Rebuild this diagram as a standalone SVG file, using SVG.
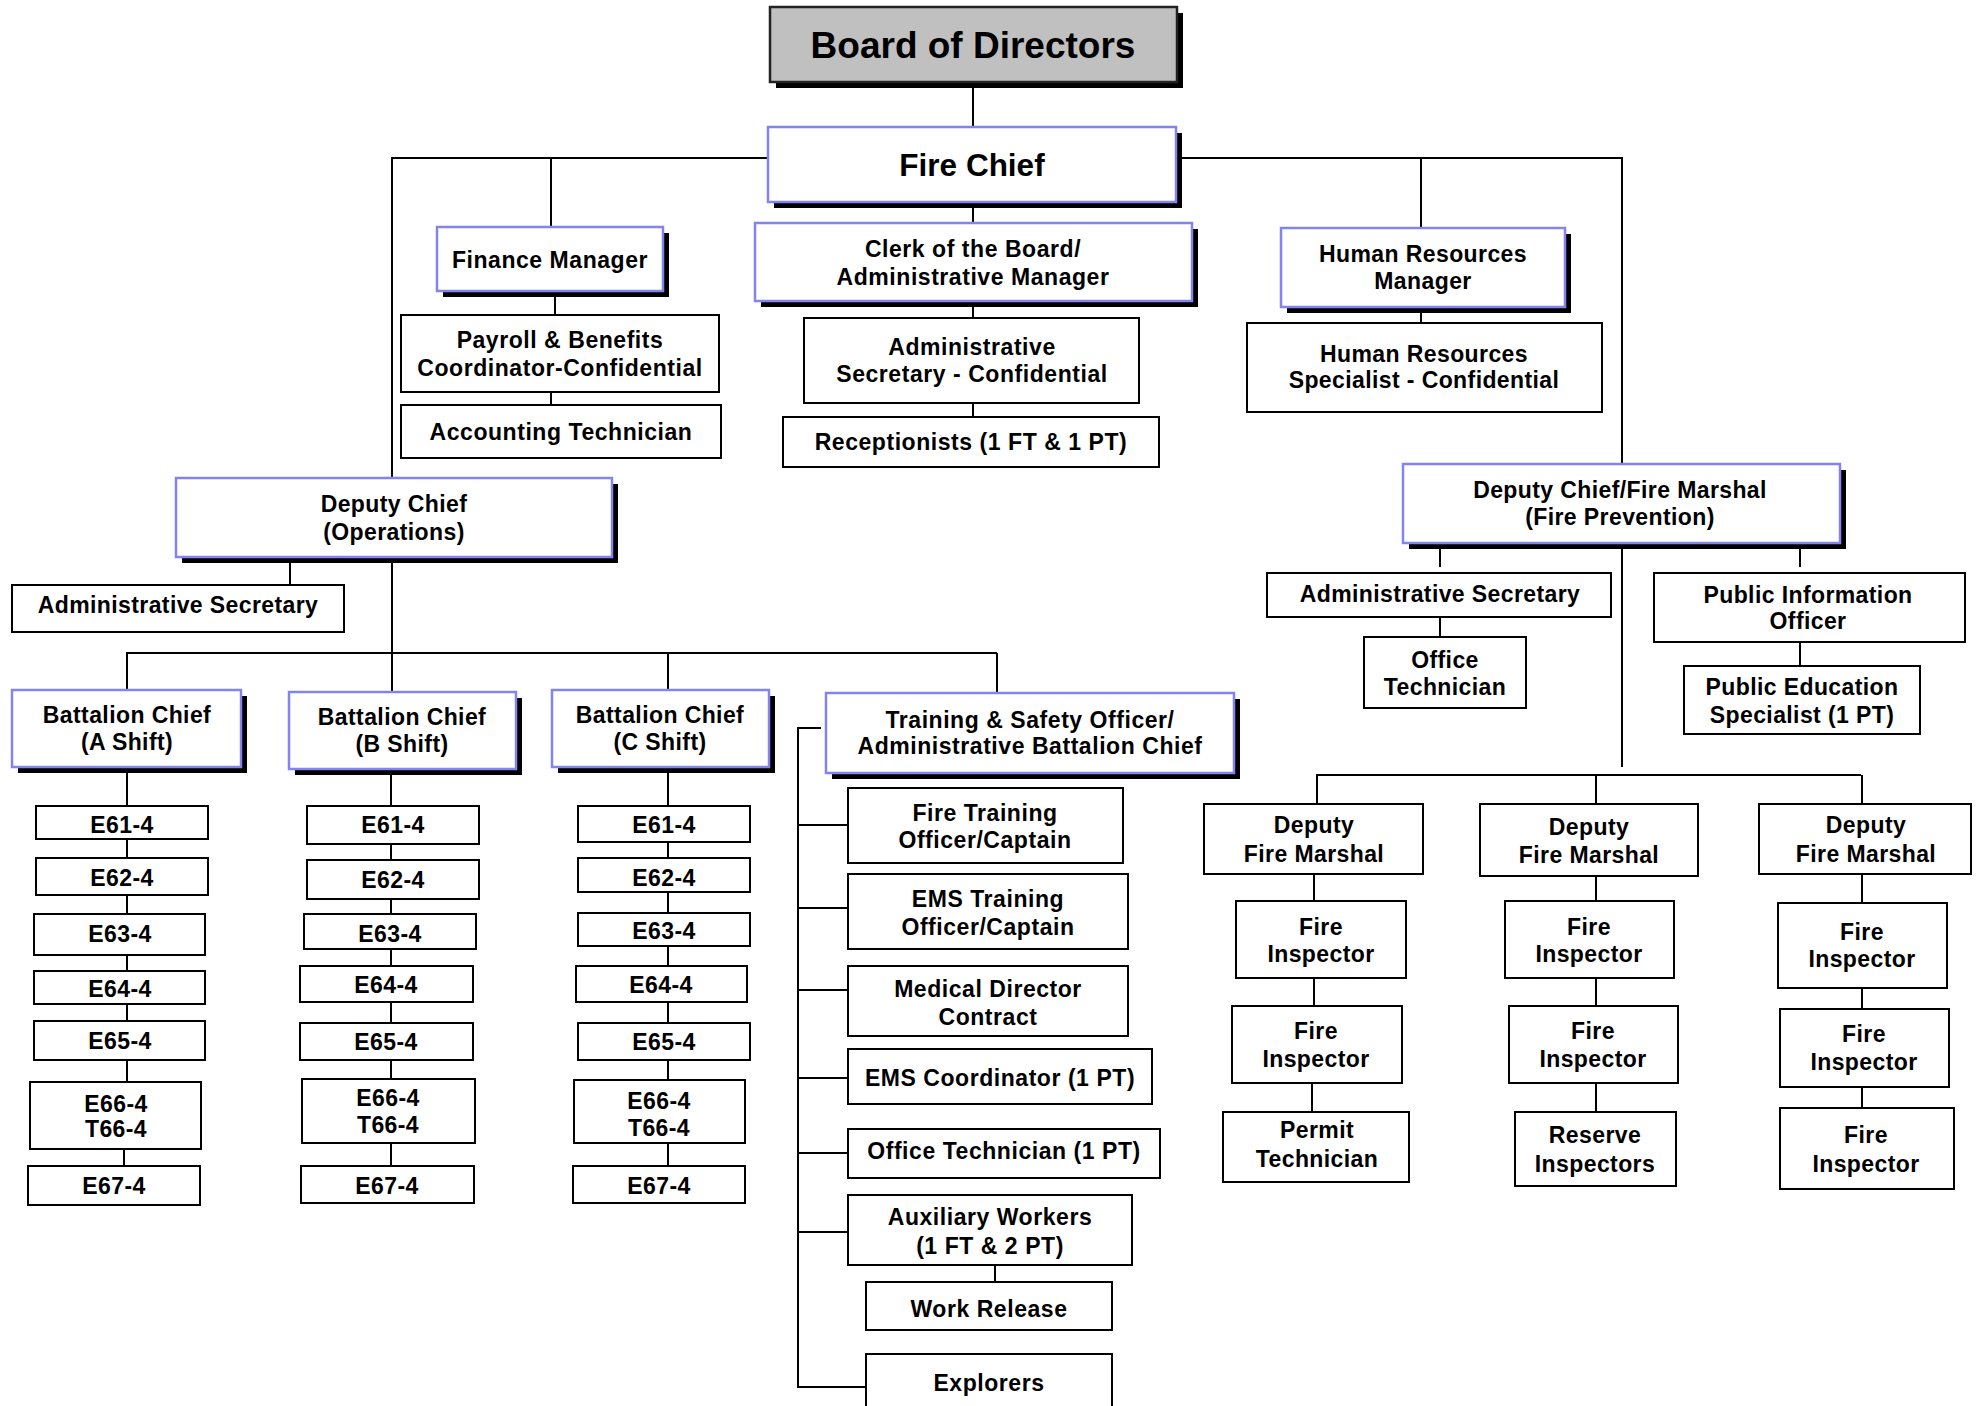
<svg xmlns="http://www.w3.org/2000/svg" width="1979" height="1406" viewBox="0 0 1979 1406">
<style>
.bg{fill:#ffffff}
.ln{stroke:#000;stroke-width:2;fill:none}
.bx{fill:#fff;stroke:#000;stroke-width:2}
.bl{fill:#fff;stroke:#8484F0;stroke-width:2.5}
.gr{fill:#C0C0C0;stroke:#222;stroke-width:2.5}
.sh{fill:#000}
text{font-family:"Liberation Sans",Arial,sans-serif;font-weight:bold;font-size:23px;text-anchor:middle;fill:#000;letter-spacing:0.4px}
.big{font-size:37px;letter-spacing:0}
.fc{font-size:31.5px;letter-spacing:0}
.ws{letter-spacing:0.55px}
</style>
<rect class="bg" x="0" y="0" width="1979" height="1406"/>
<g id="connectors">
<line class="ln" x1="973" y1="82" x2="973" y2="127"/>
<line class="ln" x1="973" y1="207" x2="973" y2="223"/>
<line class="ln" x1="973" y1="307" x2="973" y2="318"/>
<line class="ln" x1="973" y1="403" x2="973" y2="417"/>
<line class="ln" x1="391" y1="158" x2="768" y2="158"/>
<line class="ln" x1="1182" y1="158" x2="1623" y2="158"/>
<line class="ln" x1="551" y1="158" x2="551" y2="227"/>
<line class="ln" x1="555" y1="297" x2="555" y2="315"/>
<line class="ln" x1="551" y1="392" x2="551" y2="405"/>
<line class="ln" x1="1421" y1="158" x2="1421" y2="228"/>
<line class="ln" x1="1421" y1="313" x2="1421" y2="323"/>
<line class="ln" x1="392" y1="158" x2="392" y2="478"/>
<line class="ln" x1="392" y1="562" x2="392" y2="692"/>
<line class="ln" x1="290" y1="562" x2="290" y2="585"/>
<line class="ln" x1="126" y1="653" x2="997" y2="653"/>
<line class="ln" x1="127" y1="653" x2="127" y2="690"/>
<line class="ln" x1="668" y1="653" x2="668" y2="690"/>
<line class="ln" x1="997" y1="653" x2="997" y2="693"/>
<line class="ln" x1="127" y1="773" x2="127" y2="1082"/>
<line class="ln" x1="124" y1="1149" x2="124" y2="1166"/>
<line class="ln" x1="391" y1="775" x2="391" y2="1166"/>
<line class="ln" x1="668" y1="773" x2="668" y2="1166"/>
<line class="ln" x1="798" y1="727" x2="798" y2="1388"/>
<line class="ln" x1="797" y1="728" x2="821" y2="728"/>
<line class="ln" x1="797" y1="825" x2="848" y2="825"/>
<line class="ln" x1="797" y1="908" x2="848" y2="908"/>
<line class="ln" x1="797" y1="990" x2="848" y2="990"/>
<line class="ln" x1="797" y1="1078" x2="848" y2="1078"/>
<line class="ln" x1="797" y1="1153" x2="848" y2="1153"/>
<line class="ln" x1="797" y1="1232" x2="848" y2="1232"/>
<line class="ln" x1="797" y1="1387" x2="866" y2="1387"/>
<line class="ln" x1="995" y1="1265" x2="995" y2="1282"/>
<line class="ln" x1="1622" y1="158" x2="1622" y2="464"/>
<line class="ln" x1="1622" y1="549" x2="1622" y2="767"/>
<line class="ln" x1="1440" y1="549" x2="1440" y2="567"/>
<line class="ln" x1="1440" y1="617" x2="1440" y2="637"/>
<line class="ln" x1="1800" y1="549" x2="1800" y2="567"/>
<line class="ln" x1="1800" y1="642" x2="1800" y2="666"/>
<line class="ln" x1="1316" y1="775" x2="1861" y2="775"/>
<line class="ln" x1="1317" y1="775" x2="1317" y2="804"/>
<line class="ln" x1="1314" y1="874" x2="1314" y2="901"/>
<line class="ln" x1="1314" y1="978" x2="1314" y2="1006"/>
<line class="ln" x1="1312" y1="1083" x2="1312" y2="1112"/>
<line class="ln" x1="1596" y1="775" x2="1596" y2="1112"/>
<line class="ln" x1="1862" y1="775" x2="1862" y2="1108"/>
</g>
<g id="board"><rect class="sh" x="776" y="13" width="407" height="75"/><rect class="gr" x="770" y="7" width="407" height="75"/><text class="big" x="973" y="58">Board of Directors</text></g>
<g id="fire-chief"><rect class="sh" x="774" y="133" width="408" height="75"/><rect class="bl" x="768" y="127" width="408" height="75"/><text class="fc" x="972" y="176">Fire Chief</text></g>
<g id="clerk"><rect class="sh" x="761" y="229" width="437" height="78"/><rect class="bl" x="755" y="223" width="437" height="78"/><text class="ws" x="973" y="257">Clerk of the Board/</text><text class="ws" x="973" y="285">Administrative Manager</text></g>
<g id="admin-sec-conf"><rect class="bx" x="804" y="318" width="335" height="85"/><text class="ws" x="972" y="355">Administrative</text><text class="ws" x="972" y="382">Secretary - Confidential</text></g>
<g id="receptionists"><rect class="bx" x="783" y="417" width="376" height="50"/><text class="ws" x="971" y="450">Receptionists (1 FT &amp; 1 PT)</text></g>
<g id="finance"><rect class="sh" x="443" y="233" width="226" height="64"/><rect class="bl" x="437" y="227" width="226" height="64"/><text class="ws" x="550" y="268">Finance Manager</text></g>
<g id="payroll"><rect class="bx" x="401" y="315" width="318" height="77"/><text class="ws" x="560" y="348">Payroll &amp; Benefits</text><text class="ws" x="560" y="376">Coordinator-Confidential</text></g>
<g id="accounting"><rect class="bx" x="401" y="405" width="320" height="53"/><text class="ws" x="561" y="440">Accounting Technician</text></g>
<g id="hr-manager"><rect class="sh" x="1287" y="234" width="284" height="79"/><rect class="bl" x="1281" y="228" width="284" height="79"/><text x="1423" y="262">Human Resources</text><text x="1423" y="289">Manager</text></g>
<g id="hr-specialist"><rect class="bx" x="1247" y="323" width="355" height="89"/><text x="1424" y="362">Human Resources</text><text x="1424" y="388">Specialist - Confidential</text></g>
<g id="deputy-ops"><rect class="sh" x="182" y="484" width="436" height="79"/><rect class="bl" x="176" y="478" width="436" height="79"/><text x="394" y="512">Deputy Chief</text><text x="394" y="540">(Operations)</text></g>
<g id="admin-sec-ops"><rect class="bx" x="12" y="585" width="332" height="47"/><text x="178" y="613">Administrative Secretary</text></g>
<g id="bc-a"><rect class="sh" x="18" y="696" width="229" height="77"/><rect class="bl" x="12" y="690" width="229" height="77"/><text x="127" y="723">Battalion Chief</text><text x="127" y="750">(A Shift)</text></g>
<g id="bc-b"><rect class="sh" x="295" y="698" width="227" height="77"/><rect class="bl" x="289" y="692" width="227" height="77"/><text x="402" y="725">Battalion Chief</text><text x="402" y="752">(B Shift)</text></g>
<g id="bc-c"><rect class="sh" x="558" y="696" width="217" height="77"/><rect class="bl" x="552" y="690" width="217" height="77"/><text x="660" y="723">Battalion Chief</text><text x="660" y="750">(C Shift)</text></g>
<g id="a-e61"><rect class="bx" x="36" y="806" width="172" height="33"/><text x="122" y="833">E61-4</text></g>
<g id="a-e62"><rect class="bx" x="36" y="858" width="172" height="37"/><text x="122" y="886">E62-4</text></g>
<g id="a-e63"><rect class="bx" x="34" y="914" width="171" height="41"/><text x="120" y="942">E63-4</text></g>
<g id="a-e64"><rect class="bx" x="34" y="971" width="171" height="33"/><text x="120" y="997">E64-4</text></g>
<g id="a-e65"><rect class="bx" x="34" y="1021" width="171" height="39"/><text x="120" y="1049">E65-4</text></g>
<g id="a-e66"><rect class="bx" x="30" y="1082" width="171" height="67"/><text x="116" y="1112">E66-4</text><text x="116" y="1137">T66-4</text></g>
<g id="a-e67"><rect class="bx" x="28" y="1166" width="172" height="39"/><text x="114" y="1194">E67-4</text></g>
<g id="b-e61"><rect class="bx" x="307" y="806" width="172" height="38"/><text x="393" y="833">E61-4</text></g>
<g id="b-e62"><rect class="bx" x="307" y="860" width="172" height="39"/><text x="393" y="888">E62-4</text></g>
<g id="b-e63"><rect class="bx" x="304" y="914" width="172" height="35"/><text x="390" y="942">E63-4</text></g>
<g id="b-e64"><rect class="bx" x="300" y="966" width="173" height="36"/><text x="386" y="993">E64-4</text></g>
<g id="b-e65"><rect class="bx" x="300" y="1023" width="173" height="37"/><text x="386" y="1050">E65-4</text></g>
<g id="b-e66"><rect class="bx" x="302" y="1079" width="173" height="64"/><text x="388" y="1106">E66-4</text><text x="388" y="1133">T66-4</text></g>
<g id="b-e67"><rect class="bx" x="301" y="1166" width="173" height="37"/><text x="387" y="1194">E67-4</text></g>
<g id="c-e61"><rect class="bx" x="578" y="806" width="172" height="36"/><text x="664" y="833">E61-4</text></g>
<g id="c-e62"><rect class="bx" x="578" y="858" width="172" height="34"/><text x="664" y="886">E62-4</text></g>
<g id="c-e63"><rect class="bx" x="578" y="913" width="172" height="33"/><text x="664" y="939">E63-4</text></g>
<g id="c-e64"><rect class="bx" x="576" y="966" width="171" height="36"/><text x="661" y="993">E64-4</text></g>
<g id="c-e65"><rect class="bx" x="578" y="1023" width="172" height="37"/><text x="664" y="1050">E65-4</text></g>
<g id="c-e66"><rect class="bx" x="574" y="1080" width="171" height="63"/><text x="659" y="1109">E66-4</text><text x="659" y="1136">T66-4</text></g>
<g id="c-e67"><rect class="bx" x="573" y="1166" width="172" height="37"/><text x="659" y="1194">E67-4</text></g>
<g id="training"><rect class="sh" x="832" y="699" width="408" height="80"/><rect class="bl" x="826" y="693" width="408" height="80"/><text class="ws" x="1030" y="728">Training &amp; Safety Officer/</text><text class="ws" x="1030" y="754">Administrative Battalion Chief</text></g>
<g id="fire-training"><rect class="bx" x="848" y="788" width="275" height="75"/><text class="ws" x="985" y="821">Fire Training</text><text class="ws" x="985" y="848">Officer/Captain</text></g>
<g id="ems-training"><rect class="bx" x="848" y="874" width="280" height="75"/><text class="ws" x="988" y="907">EMS Training</text><text class="ws" x="988" y="935">Officer/Captain</text></g>
<g id="medical-director"><rect class="bx" x="848" y="966" width="280" height="70"/><text class="ws" x="988" y="997">Medical Director</text><text class="ws" x="988" y="1025">Contract</text></g>
<g id="ems-coordinator"><rect class="bx" x="848" y="1049" width="304" height="55"/><text class="ws" x="1000" y="1086">EMS Coordinator (1 PT)</text></g>
<g id="office-tech-training"><rect class="bx" x="848" y="1129" width="312" height="49"/><text class="ws" x="1004" y="1159">Office Technician (1 PT)</text></g>
<g id="auxiliary"><rect class="bx" x="848" y="1195" width="284" height="70"/><text class="ws" x="990" y="1225">Auxiliary Workers</text><text class="ws" x="990" y="1254">(1 FT &amp; 2 PT)</text></g>
<g id="work-release"><rect class="bx" x="866" y="1282" width="246" height="48"/><text class="ws" x="989" y="1317">Work Release</text></g>
<g id="explorers"><rect class="bx" x="866" y="1354" width="246" height="60"/><text class="ws" x="989" y="1391">Explorers</text></g>
<g id="deputy-fire-marshal-chief"><rect class="sh" x="1409" y="470" width="437" height="79"/><rect class="bl" x="1403" y="464" width="437" height="79"/><text x="1620" y="498">Deputy Chief/Fire Marshal</text><text x="1620" y="525">(Fire Prevention)</text></g>
<g id="admin-sec-fp"><rect class="bx" x="1267" y="573" width="344" height="44"/><text x="1440" y="602">Administrative Secretary</text></g>
<g id="office-tech-fp"><rect class="bx" x="1364" y="637" width="162" height="71"/><text x="1445" y="668">Office</text><text x="1445" y="695">Technician</text></g>
<g id="pio"><rect class="bx" x="1654" y="573" width="311" height="69"/><text x="1808" y="603">Public Information</text><text x="1808" y="629">Officer</text></g>
<g id="pes"><rect class="bx" x="1684" y="666" width="236" height="68"/><text x="1802" y="695">Public Education</text><text x="1802" y="723">Specialist (1 PT)</text></g>
<g id="dfm-1"><rect class="bx" x="1204" y="804" width="219" height="70"/><text x="1314" y="833">Deputy</text><text x="1314" y="862">Fire Marshal</text></g>
<g id="dfm-2"><rect class="bx" x="1480" y="804" width="218" height="72"/><text x="1589" y="835">Deputy</text><text x="1589" y="863">Fire Marshal</text></g>
<g id="dfm-3"><rect class="bx" x="1759" y="804" width="212" height="70"/><text x="1866" y="833">Deputy</text><text x="1866" y="862">Fire Marshal</text></g>
<g id="fi-1a"><rect class="bx" x="1236" y="901" width="170" height="77"/><text x="1321" y="935">Fire</text><text x="1321" y="962">Inspector</text></g>
<g id="fi-1b"><rect class="bx" x="1232" y="1006" width="170" height="77"/><text x="1316" y="1039">Fire</text><text x="1316" y="1067">Inspector</text></g>
<g id="permit-tech"><rect class="bx" x="1223" y="1112" width="186" height="70"/><text x="1317" y="1138">Permit</text><text x="1317" y="1167">Technician</text></g>
<g id="fi-2a"><rect class="bx" x="1505" y="901" width="169" height="77"/><text x="1589" y="935">Fire</text><text x="1589" y="962">Inspector</text></g>
<g id="fi-2b"><rect class="bx" x="1509" y="1006" width="169" height="77"/><text x="1593" y="1039">Fire</text><text x="1593" y="1067">Inspector</text></g>
<g id="reserve"><rect class="bx" x="1515" y="1112" width="161" height="74"/><text x="1595" y="1143">Reserve</text><text x="1595" y="1172">Inspectors</text></g>
<g id="fi-3a"><rect class="bx" x="1778" y="903" width="169" height="85"/><text x="1862" y="940">Fire</text><text x="1862" y="967">Inspector</text></g>
<g id="fi-3b"><rect class="bx" x="1780" y="1009" width="169" height="78"/><text x="1864" y="1042">Fire</text><text x="1864" y="1070">Inspector</text></g>
<g id="fi-3c"><rect class="bx" x="1780" y="1108" width="174" height="81"/><text x="1866" y="1143">Fire</text><text x="1866" y="1172">Inspector</text></g>
</svg>
